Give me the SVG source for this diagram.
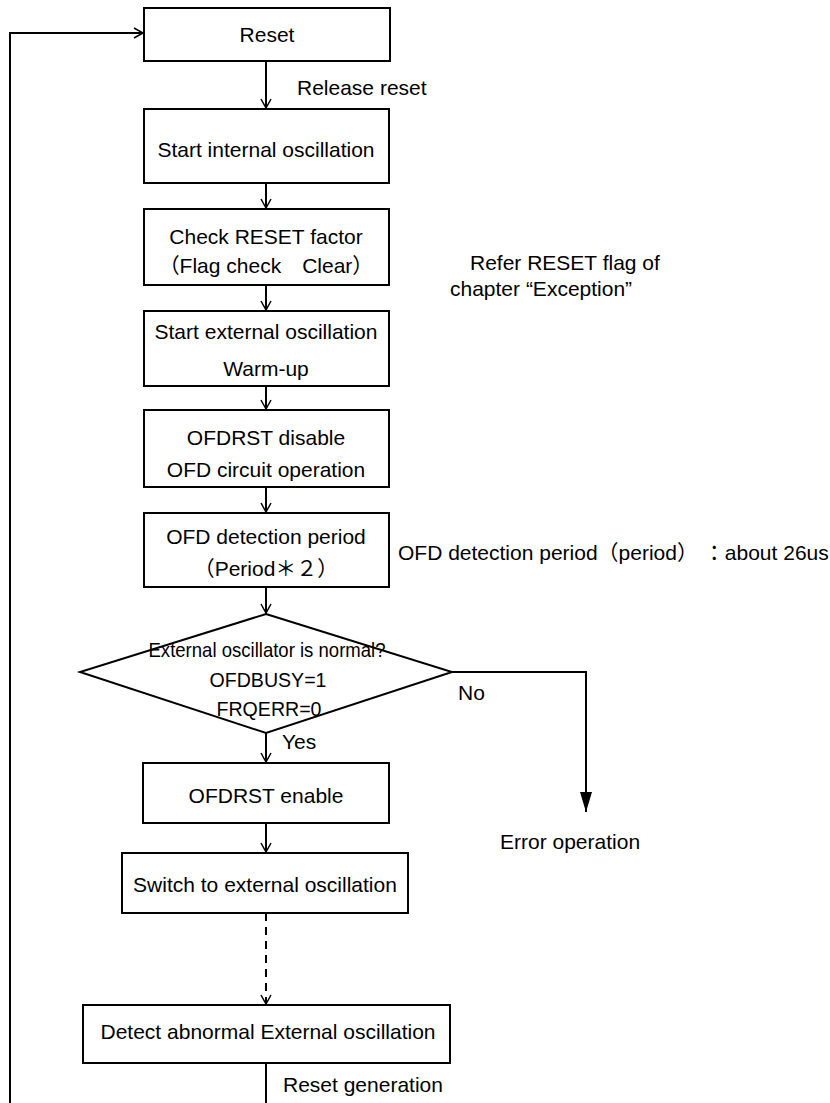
<svg xmlns="http://www.w3.org/2000/svg" width="830" height="1103" viewBox="0 0 830 1103">
<defs>
<marker id="open" markerWidth="12" markerHeight="12" refX="10" refY="6" orient="auto" markerUnits="userSpaceOnUse">
<path d="M1,1 L10,6 L1,11" fill="none" stroke="#000" stroke-width="1.5"/>
</marker>
<marker id="solid" markerWidth="22" markerHeight="14" refX="20" refY="7" orient="auto" markerUnits="userSpaceOnUse">
<path d="M0,1 L20,7 L0,13 Z" fill="#000"/>
</marker>
</defs>
<style>
.box{fill:#fff;stroke:#000;stroke-width:2}
.t{font-family:"Liberation Sans","Noto Sans CJK JP",sans-serif;font-size:21px;fill:#000}
.c{text-anchor:middle}
.ln{fill:none;stroke:#000;stroke-width:2}
</style>
<rect width="830" height="1103" fill="#fff"/>
<g id="connectors">
<path class="ln" d="M10,1103 L10,33 L143,33" marker-end="url(#open)"/>
<path class="ln" d="M266,61 L266,108" marker-end="url(#open)"/>
<path class="ln" d="M266,183 L266,208" marker-end="url(#open)"/>
<path class="ln" d="M266,285 L266,310" marker-end="url(#open)"/>
<path class="ln" d="M266,386 L266,409" marker-end="url(#open)"/>
<path class="ln" d="M266,487 L266,512" marker-end="url(#open)"/>
<path class="ln" d="M266,587 L266,613" marker-end="url(#open)"/>
<path class="ln" d="M266,733 L266,762" marker-end="url(#open)"/>
<path class="ln" d="M266,823 L266,852" marker-end="url(#open)"/>
<path class="ln" d="M266,913 L266,1004" stroke-dasharray="8,6" marker-end="url(#open)"/>
<path class="ln" d="M266,1063 L266,1103"/>
<path class="ln" d="M452,672 L586,672 L586,812" marker-end="url(#solid)"/>
<text class="t" x="297" y="95">Release reset</text>
<text class="t" x="282" y="749">Yes</text>
<text class="t" x="458" y="700">No</text>
<text class="t" x="283" y="1092">Reset generation</text>
</g>
<g id="reset"><rect class="box" x="144" y="8" width="246" height="53"/><text class="t c" x="267" y="42">Reset</text></g>
<g id="start-internal"><rect class="box" x="144" y="109" width="245" height="74"/><text class="t c" x="266" y="157">Start internal oscillation</text></g>
<g id="check-reset"><rect class="box" x="144" y="209" width="245" height="76"/><text class="t c" x="266" y="244">Check RESET factor</text><text class="t c" x="266" y="273">（Flag check　Clear）</text></g>
<g id="refer-note"><text class="t" x="470" y="270">Refer RESET flag of</text><text class="t" x="450" y="296">chapter “Exception”</text></g>
<g id="start-external"><rect class="box" x="144" y="311" width="245" height="75"/><text class="t c" x="266" y="339">Start  external oscillation</text><text class="t c" x="266" y="376">Warm-up</text></g>
<g id="ofdrst-disable"><rect class="box" x="144" y="410" width="245" height="77"/><text class="t c" x="266" y="445">OFDRST disable</text><text class="t c" x="266" y="477">OFD circuit operation</text></g>
<g id="ofd-period"><rect class="box" x="144" y="513" width="245" height="74"/><text class="t c" x="266" y="544">OFD detection period</text><text class="t c" x="266" y="576">（Period＊２）</text></g>
<g id="period-note"><text class="t" x="398" y="560">OFD detection period（period） ：about 26us</text></g>
<g id="decision"><polygon class="box" points="266,614 452,672 266,733 80,672"/><text class="t c" x="267" y="657" textLength="237" lengthAdjust="spacingAndGlyphs">External oscillator is normal?</text><text class="t c" x="268" y="687" textLength="117" lengthAdjust="spacingAndGlyphs">OFDBUSY=1</text><text class="t c" x="269" y="716" textLength="105" lengthAdjust="spacingAndGlyphs">FRQERR=0</text></g>
<g id="ofdrst-enable"><rect class="box" x="143" y="763" width="246" height="60"/><text class="t c" x="266" y="803">OFDRST enable</text></g>
<g id="switch-external"><rect class="box" x="122" y="853" width="286" height="60"/><text class="t c" x="265" y="892">Switch to external oscillation</text></g>
<g id="error"><text class="t" x="500" y="849">Error operation</text></g>
<g id="detect-abnormal"><rect class="box" x="83" y="1005" width="367" height="58"/><text class="t c" x="268" y="1039">Detect abnormal External oscillation</text></g>
</svg>
